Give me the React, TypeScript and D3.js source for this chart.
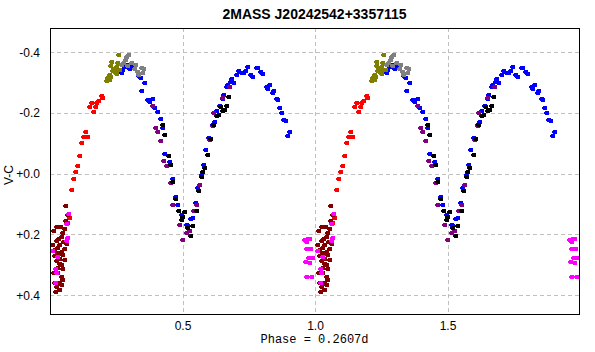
import React from 'react';
import * as d3 from 'd3';

// phase, V-C pairs (phase 0..1, repeated at +1)
const redPts: [number, number][] = [
  [0.195, -0.255], [0.201, -0.25], [0.186, -0.239], [0.178, -0.233], [0.16, -0.233],
  [0.151, -0.219], [0.174, -0.219], [0.167, -0.203], [0.136, -0.137], [0.128, -0.121],
  [0.145, -0.121], [0.122, -0.101], [0.113, -0.057], [0.107, -0.024], [0.098, -0.005],
  [0.091, 0.019], [0.084, 0.055], [0.075, 0.146], [0.068, 0.164],
];
const olivePts: [number, number][] = [
  [0.2615, -0.391], [0.234, -0.368], [0.258, -0.364], [0.232, -0.354], [0.253, -0.352],
  [0.242, -0.346], [0.266, -0.343], [0.245, -0.334], [0.252, -0.329], [0.226, -0.324],
  [0.23, -0.319], [0.22, -0.316], [0.215, -0.305], [0.225, -0.309], [0.238, -0.339],
  [0.253, -0.34],
];
const grayPts: [number, number][] = [
  [0.299, -0.392], [0.291, -0.383], [0.285, -0.375], [0.279, -0.365], [0.311, -0.364],
  [0.325, -0.357], [0.273, -0.357], [0.321, -0.345], [0.346, -0.348], [0.356, -0.344],
  [0.332, -0.335], [0.351, -0.331], [0.337, -0.325], [0.294, -0.354],
];
const bluePts: [number, number][] = [
  [0.2917, -0.359], [0.283, -0.351], [0.302, -0.346], [0.277, -0.343], [0.273, -0.333],
  [0.309, -0.35], [0.336, -0.321], [0.343, -0.315], [0.36, -0.299], [0.348, -0.272],
  [0.368, -0.242], [0.377, -0.236], [0.389, -0.245], [0.397, -0.216], [0.409, -0.203],
  [0.42, -0.179], [0.428, -0.15], [0.435, -0.066], [0.454, -0.038], [0.465, 0.017],
  [0.475, 0.077], [0.484, 0.104], [0.497, 0.135], [0.503, 0.143], [0.516, 0.17],
  [0.522, 0.174], [0.531, 0.148], [0.541, 0.146], [0.551, 0.097], [0.56, 0.047],
  [0.572, 0.006], [0.581, -0.028], [0.59, -0.078], [0.601, -0.117], [0.614, -0.162],
  [0.623, -0.17], [0.631, -0.206], [0.642, -0.223], [0.652, -0.247], [0.658, -0.26],
  [0.667, -0.285], [0.673, -0.293], [0.682, -0.302], [0.688, -0.311], [0.695, -0.299],
  [0.705, -0.326], [0.714, -0.338], [0.723, -0.333], [0.732, -0.331], [0.74, -0.338],
  [0.748, -0.351], [0.757, -0.326], [0.767, -0.318], [0.78, -0.348], [0.786, -0.348],
  [0.795, -0.335], [0.805, -0.327], [0.818, -0.285], [0.83, -0.293], [0.824, -0.28],
  [0.845, -0.272], [0.84, -0.266], [0.855, -0.245], [0.862, -0.242], [0.868, -0.216],
  [0.877, -0.2], [0.883, -0.176], [0.891, -0.172], [0.906, -0.137], [0.899, -0.123],
];
const purplePts: [number, number][] = [
  [0.39, -0.223], [0.4, -0.15], [0.409, -0.137], [0.419, -0.107], [0.43, -0.042],
  [0.443, -0.024], [0.455, 0.031], [0.465, 0.104], [0.491, 0.17], [0.503, 0.22],
  [0.516, 0.196], [0.528, 0.19], [0.543, 0.124], [0.554, 0.104], [0.566, 0.039],
  [0.604, -0.11], [0.614, -0.156], [0.619, -0.2], [0.651, -0.249], [0.679, -0.285],
];
const blackPts: [number, number][] = [
  [0.428, -0.162], [0.435, -0.126], [0.45, -0.057], [0.458, -0.027], [0.465, 0.029],
  [0.474, 0.082], [0.488, 0.124], [0.509, 0.127], [0.503, 0.143], [0.497, 0.154],
  [0.52, 0.179], [0.532, 0.207], [0.541, 0.174], [0.554, 0.124], [0.563, 0.058],
  [0.572, 0.011], [0.578, -0.004], [0.585, -0.019], [0.598, -0.06], [0.606, -0.113],
  [0.619, -0.162], [0.631, -0.189], [0.639, -0.192], [0.645, -0.219], [0.654, -0.206],
  [0.66, -0.211], [0.669, -0.223], [0.675, -0.252],
];
const maroonPts: [number, number][] = [
  [0.06, 0.107], [0.067, 0.137], [0.06, 0.156], [0.057, 0.181], [0.042, 0.176],
  [0.028, 0.176], [0.016, 0.189], [0.05, 0.196], [0.044, 0.209], [0.034, 0.217],
  [0.025, 0.223], [0.063, 0.231], [0.012, 0.236], [0.038, 0.236], [0.057, 0.247],
  [0.019, 0.253], [0.031, 0.262], [0.05, 0.269], [0.019, 0.272], [0.038, 0.28],
  [0.057, 0.285], [0.025, 0.289], [0.044, 0.302], [0.031, 0.31], [0.05, 0.313],
  [0.016, 0.328], [0.031, 0.329], [0.044, 0.341], [0.05, 0.349], [0.019, 0.362],
  [0.038, 0.362], [0.025, 0.374], [0.044, 0.368], [0.023, 0.39], [0.038, 0.382],
  [0.047, 0.259], [0.036, 0.298], [0.054, 0.224], [0.029, 0.245],
];
const magentaPts: [number, number][] = [
  [0.962, 0.22], [0.975, 0.214], [0.981, 0.217], [0.969, 0.225], [0.968, 0.249],
  [0.985, 0.249], [0.979, 0.278], [0.992, 0.277], [0.965, 0.291], [0.98, 0.295],
  [0.971, 0.341], [0.99, 0.342],
  [0.07, 0.132], [0.064, 0.165], [0.068, 0.213], [0.064, 0.222], [0.013, 0.254],
  [0.03, 0.275], [0.023, 0.313], [0.025, 0.329], [0.023, 0.361],
];

const series = [
  {name: 'blue', color: '#0000ff', pts: bluePts},
  {name: 'purple', color: '#800080', pts: purplePts},
  {name: 'black', color: '#000000', pts: blackPts},
  {name: 'red', color: '#ff0000', pts: redPts},
  {name: 'olive', color: '#808000', pts: olivePts},
  {name: 'gray', color: '#808080', pts: grayPts},
  {name: 'maroon', color: '#800000', pts: maroonPts},
  {name: 'magenta', color: '#ff00ff', pts: magentaPts},
];

const xTicks = [0.5, 1.0, 1.5];
const yTicks = [-0.4, -0.2, 0.0, 0.2, 0.4];
const yTickLabels = ['-0.4', '-0.2', '+0.0', '+0.2', '+0.4'];

export default function App() {
  const width = 595, height = 352;
  const left = 50, right = 579, top = 28, bottom = 314;

  const x = d3.scaleLinear().domain([0, 1.996]).range([left, right]);
  const y = d3.scaleLinear().domain([-0.4, 0.4]).range([52.3, 295]);

  const marker = (px: number, py: number, color: string, key: string) => (
    <g key={key} fill={color}>
      <rect x={Math.round(px) - 2} y={Math.round(py) - 2} width={4} height={4} />
      <rect x={Math.round(px) - 3} y={Math.round(py) - 1} width={1} height={2} />
    </g>
  );

  return (
    <svg width={width} height={height}
      style={{position: 'absolute', left: 0, top: 0, background: '#fff'}}
      shapeRendering='crispEdges'>
      <text x={(left + right) / 2} y={19} textAnchor='middle'
        fontFamily='Liberation Sans, Arial, sans-serif' fontWeight='bold' fontSize={14}>
        2MASS J20242542+3357115
      </text>

      {/* grid */}
      {xTicks.map(t => (
        <line key={'gx' + t} x1={Math.round(x(t)) + 0.5} x2={Math.round(x(t)) + 0.5}
          y1={top} y2={bottom} stroke='#c0c0c0' strokeDasharray='4,3' />
      ))}
      {yTicks.map(t => (
        <line key={'gy' + t} x1={left} x2={right}
          y1={Math.round(y(t)) + 0.5} y2={Math.round(y(t)) + 0.5}
          stroke='#c0c0c0' strokeDasharray='4,3' />
      ))}

      {/* points, each phase shown twice */}
      <g>
        {series.map(s =>
          s.pts.flatMap((d, i) =>
            [0, 1].map(k => {
              const ph = d[0] + k;
              if (ph < 0 || ph > 1.996) return null;
              return marker(x(ph), y(d[1]), s.color, s.name + i + '_' + k);
            })
          )
        )}
      </g>

      <rect x={left + 0.5} y={top + 0.5} width={right - left} height={bottom - top}
        fill='none' stroke='#000' />

      {yTicks.map((t, i) => (
        <text key={'ty' + t} x={40} y={y(t) + 4.5} textAnchor='end'
          fontFamily='Liberation Sans, Arial, sans-serif' fontSize={12}>
          {yTickLabels[i]}
        </text>
      ))}
      {xTicks.map(t => (
        <text key={'tx' + t} x={x(t) + 0.5} y={330} textAnchor='middle'
          fontFamily='Liberation Sans, Arial, sans-serif' fontSize={12}>
          {t.toFixed(1)}
        </text>
      ))}
      <text transform='translate(13,175) rotate(-90)' textAnchor='middle'
        fontFamily='Liberation Sans, Arial, sans-serif' fontSize={12}>
        V-C
      </text>
      <text x={(left + right) / 2} y={343} textAnchor='middle'
        fontFamily='Liberation Mono, Courier New, monospace' fontSize={12}>
        Phase = 0.2607d
      </text>
    </svg>
  );
}
